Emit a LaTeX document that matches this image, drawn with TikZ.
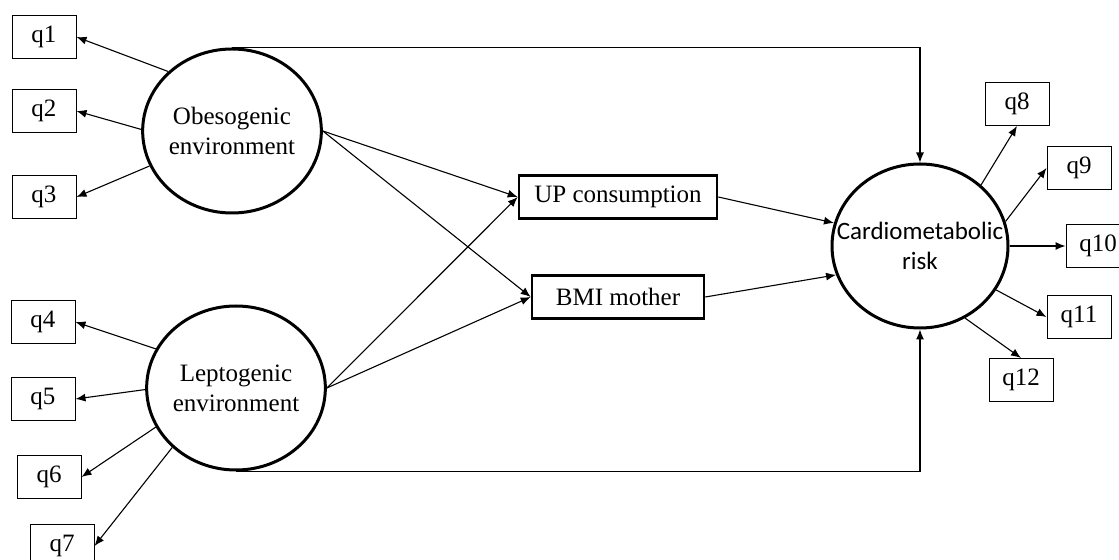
\documentclass[tikz,border=0pt]{standalone}
\usepackage{fontspec}
\setmainfont{Liberation Serif}
\newfontfamily\calibrifont{Carlito}
\usetikzlibrary{shapes.geometric,arrows.meta}

\begin{document}
\begin{tikzpicture}[x=0.5pt,y=-0.5pt,font=\fontsize{12.5}{15}\selectfont,
    >={Latex[length=5pt,width=4pt]},
    latent/.style={ellipse,draw,line width=1.5pt,minimum width=88pt,minimum height=82pt,inner sep=0pt,align=center},
    item/.style={rectangle,draw,line width=0.5pt,minimum width=32pt,minimum height=21.5pt,inner sep=0pt},
    med/.style={rectangle,draw,line width=1.3pt,minimum height=21.5pt,inner sep=0pt},
    path/.style={->,line width=0.55pt}]
    \useasboundingbox (0,0) rectangle (1119,560);
    % latent variables
    \node[latent] (obe) at (232,131) {Obesogenic\\environment};
    \node[latent] (lep) at (236,388) {Leptogenic\\environment};
    \node[latent,inner xsep=-12pt,font=\calibrifont\fontsize{12.5}{15}\selectfont] (car) at (920,246) {Cardiometabolic\\risk};
    % mediators
    \node[med,minimum width=99pt] (up) at (618,197) {UP consumption};
    \node[med,minimum width=86pt] (bmi) at (618,297) {BMI mother};
    % indicators
    \node[item] (q1) at (44,37) {q1};
    \node[item] (q2) at (44,111) {q2};
    \node[item] (q3) at (44,197) {q3};
    \node[item] (q4) at (43,322) {q4};
    \node[item] (q5) at (43,399) {q5};
    \node[item] (q6) at (49,477) {q6};
    \node[item] (q7) at (62,546) {q7};
    \node[item] (q8) at (1017,104) {q8};
    \node[item] (q9) at (1079,168) {q9};
    \node[item] (q10) at (1098,246) {q10};
    \node[item] (q11) at (1079,317) {q11};
    \node[item] (q12) at (1021,380) {q12};
    % measurement part
    \draw[path] (obe.137) -- (q1.east);
    \draw[path] (obe.179) -- (q2.east);
    \draw[path] (obe.203) -- (q3.east);
    \draw[path] (lep.154) -- (q4.east);
    \draw[path] (lep.181) -- (q5.east);
    \draw[path] (lep.206) -- (q6.east);
    \draw[path] (lep.223) -- (q7.east);
    \draw[path] (car.45) -- (q8.south);
    \draw[path] (car.16) -- (q9.west);
    \draw[path] (car.east) -- (q10.west);
    \draw[path] (car.330) -- (q11.west);
    \draw[path] (car.302) -- (q12.north);
    % structural part
    \draw[path] (obe.east) -- (up.west);
    \draw[path] (obe.east) -- (bmi.west);
    \draw[path] (lep.east) -- (up.west);
    \draw[path] (lep.east) -- (bmi.west);
    \draw[path] (up.east) -- (car.165);
    \draw[path] (bmi.east) -- (car.199);
    \draw[path] (obe.north) -| (car.north);
    \draw[path] (lep.south) -| (car.south);
\end{tikzpicture}
\end{document}
